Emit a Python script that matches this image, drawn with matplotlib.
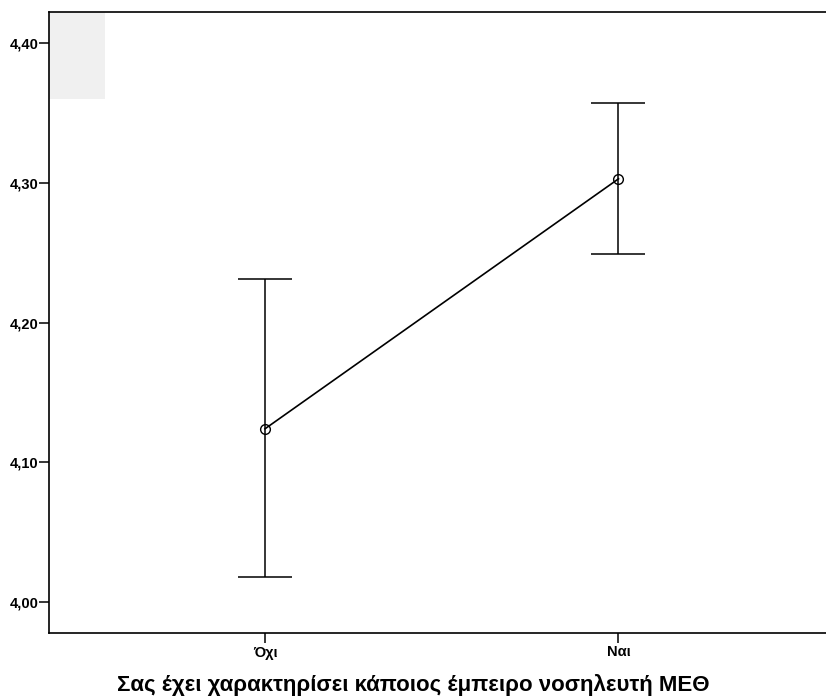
import matplotlib
matplotlib.use("Agg")
import matplotlib.pyplot as plt
from matplotlib.patches import Rectangle

categories = ["Όχι", "Ναι"]
means = [4.124, 4.303]
upper = [4.231, 4.357]
lower = [4.018, 4.249]
yticks = [4.00, 4.10, 4.20, 4.30, 4.40]
xlabel = "Σας έχει χαρακτηρίσει κάποιος έμπειρο νοσηλευτή ΜΕΘ"

plt.rcParams['font.family'] = ['Liberation Sans', 'DejaVu Sans']

fig = plt.figure(figsize=(8.26, 6.97), dpi=100)
ax = fig.add_axes([49/826, 1-633/697, 1-49/826, (633-11.5)/697])

x = list(range(len(categories)))
yerr = [[m - l for m, l in zip(means, lower)], [u - m for m, u in zip(means, upper)]]
ax.errorbar(x, means, yerr=yerr, fmt='none', ecolor='black', elinewidth=1.1,
            capsize=19.4, capthick=1.1, zorder=2)
ax.plot(x, means, color='black', lw=1.2, marker='o', markersize=7,
        markerfacecolor='none', markeredgecolor='black', markeredgewidth=1.0, zorder=3)

ax.add_patch(Rectangle((0, 1-(99-11.5)/621.5), 56/777, (99-11.5)/621.5,
                       transform=ax.transAxes, facecolor='#f0f0f0', edgecolor='none', zorder=0))

ax.set_xlim(-0.611, 1.587)
ax.set_ylim(3.9778, 4.4228)
ax.set_yticks(yticks)
ax.set_yticklabels([f"{v:.2f}".replace('.', ',') for v in yticks], fontsize=10.5, fontweight='bold')
ax.set_xticks(x)
ax.set_xticklabels(categories, fontsize=10.5, fontweight='bold')
ax.tick_params(direction='out', length=7, width=1.1, color='black')
ax.tick_params(axis='y', pad=0.5)
ax.tick_params(axis='x', pad=2)
ax.spines['right'].set_visible(False)
for s in ['left', 'top', 'bottom']:
    ax.spines[s].set_linewidth(1.2)
ax.set_xlabel(xlabel, fontsize=16, fontweight='bold')
ax.xaxis.set_label_coords((413-49)/777, -(685-633)/621.5)
ax.xaxis.label.set_va('center')

fig.savefig("out.png", dpi=100)
